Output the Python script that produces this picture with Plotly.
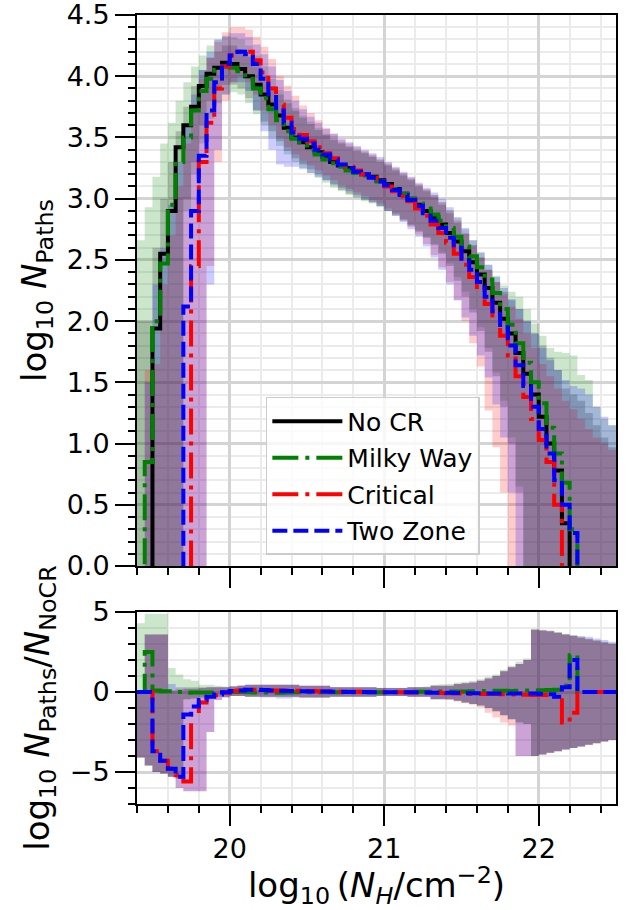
import numpy as np
import plotly.graph_objects as go

# ---------------- data ----------------
# bin edges of log10(N_H / cm^-2): 62 bins of 0.05 dex from 19.4 to 22.5
nh_edges = np.round(19.4 + 0.05 * np.arange(63), 3)

# log10 N_Paths per bin (-1 marks empty bins, below the visible range)
no_cr = [
    -1, -1, 1.94, 2.55, 2.90, 3.42, 3.60, 3.75, 3.92, 4.02,
    4.07, 4.11, 4.10, 4.06, 4.00, 3.93, 3.85, 3.77, 3.68, 3.58,
    3.50, 3.46, 3.42, 3.38, 3.34, 3.30, 3.27, 3.25, 3.22, 3.20,
    3.18, 3.15, 3.12, 3.08, 3.04, 3.00, 2.95, 2.90, 2.85, 2.79,
    2.72, 2.65, 2.57, 2.48, 2.38, 2.27, 2.15, 2.02, 1.90, 1.74,
    1.57, 1.40, 1.22, 1.00, 0.78, 0.35, -1, -1, -1, -1,
    -1, -1]
milky_way = [
    -1, 0.85, 2.00, 2.47, 2.95, 3.30, 3.50, 3.72, 3.88, 3.98,
    4.05, 4.08, 4.07, 4.04, 3.98, 3.90, 3.82, 3.73, 3.64, 3.55,
    3.49, 3.44, 3.40, 3.36, 3.32, 3.29, 3.26, 3.23, 3.21, 3.19,
    3.17, 3.14, 3.11, 3.08, 3.04, 3.00, 2.96, 2.92, 2.87, 2.82,
    2.76, 2.69, 2.61, 2.53, 2.44, 2.34, 2.23, 2.10, 1.97, 1.82,
    1.66, 1.50, 1.33, 1.13, 0.92, 0.68, 0.30, -1, -1, -1,
    -1, -1]
critical = [
    -1, -1, -1, -1, -1, -1, -1, 2.45, 3.30, 3.62,
    3.90, 4.08, 4.17, 4.20, 4.20, 4.13, 4.03, 3.90, 3.77, 3.66,
    3.57, 3.52, 3.47, 3.42, 3.37, 3.33, 3.29, 3.26, 3.23, 3.20,
    3.17, 3.14, 3.10, 3.06, 3.02, 2.98, 2.92, 2.86, 2.79, 2.72,
    2.64, 2.55, 2.46, 2.36, 2.26, 2.14, 2.02, 1.88, 1.72, 1.55,
    1.38, 1.20, 1.03, 0.85, 0.50, -1, -1, -1, -1, -1,
    -1, -1]
two_zone = [
    -1, -1, -1, -1, -1, -1, 2.12, 2.90, 3.35, 3.72,
    3.95, 4.10, 4.17, 4.20, 4.18, 4.10, 3.98, 3.85, 3.72, 3.62,
    3.54, 3.49, 3.45, 3.40, 3.36, 3.32, 3.28, 3.25, 3.22, 3.20,
    3.17, 3.14, 3.11, 3.07, 3.03, 2.99, 2.94, 2.88, 2.82, 2.76,
    2.68, 2.60, 2.51, 2.42, 2.32, 2.20, 2.08, 1.95, 1.80, 1.64,
    1.47, 1.30, 1.12, 0.92, 0.70, 0.50, 0.27, -1, -1, -1,
    -1, -1]

# spread bands (lower / upper) of log10 N_Paths
no_cr_lo = [
    -1, -1, -1, -1, -1, -1, 3.00, 3.30, 3.60, 3.80,
    3.88, 3.93, 3.93, 3.90, 3.82, 3.72, 3.63, 3.55, 3.47, 3.39,
    3.33, 3.28, 3.24, 3.20, 3.15, 3.11, 3.07, 3.04, 3.01, 2.99,
    2.97, 2.94, 2.90, 2.86, 2.82, 2.78, 2.73, 2.68, 2.62, 2.55,
    2.45, 2.33, 2.20, 2.07, 1.92, 1.75, 1.55, 1.30, 1.00, 0.60,
    -1, -1, -1, -1, -1, -1, -1, -1, -1, -1,
    -1, -1]
no_cr_hi = [
    2.00, 2.00, 2.60, 3.00, 3.30, 3.55, 3.75, 3.92, 4.05, 4.15,
    4.20, 4.25, 4.25, 4.22, 4.16, 4.08, 4.00, 3.92, 3.85, 3.78,
    3.72, 3.66, 3.61, 3.56, 3.52, 3.48, 3.45, 3.42, 3.39, 3.37,
    3.34, 3.30, 3.27, 3.23, 3.19, 3.15, 3.10, 3.06, 3.01, 2.95,
    2.88, 2.80, 2.71, 2.62, 2.52, 2.42, 2.32, 2.24, 2.17, 2.10,
    2.00, 1.90, 1.80, 1.70, 1.60, 1.45, 1.40, 1.35, 1.25, 1.15,
    1.05, 0.97]
milky_way_lo = [
    -1, -1, -1, -1, -1, -1, 2.90, 3.20, 3.45, 3.65,
    3.78, 3.85, 3.87, 3.85, 3.78, 3.69, 3.60, 3.51, 3.43, 3.36,
    3.30, 3.25, 3.21, 3.17, 3.13, 3.09, 3.06, 3.03, 3.01, 2.98,
    2.96, 2.93, 2.90, 2.87, 2.83, 2.79, 2.74, 2.69, 2.63, 2.56,
    2.47, 2.36, 2.24, 2.10, 1.95, 1.78, 1.58, 1.35, 1.05, 0.65,
    -1, -1, -1, -1, -1, -1, -1, -1, -1, -1,
    -1, -1]
milky_way_hi = [
    2.66, 2.93, 3.18, 3.45, 3.62, 3.80, 3.95, 4.08, 4.17, 4.25,
    4.30, 4.32, 4.32, 4.30, 4.25, 4.17, 4.08, 3.98, 3.89, 3.81,
    3.74, 3.68, 3.63, 3.58, 3.53, 3.49, 3.46, 3.43, 3.40, 3.38,
    3.35, 3.32, 3.28, 3.24, 3.20, 3.16, 3.11, 3.07, 3.03, 2.97,
    2.91, 2.84, 2.75, 2.66, 2.56, 2.46, 2.37, 2.29, 2.24, 2.20,
    2.10, 1.98, 1.88, 1.78, 1.75, 1.74, 1.72, 1.56, 1.52, 1.30,
    1.20, 1.15]
critical_lo = [
    -1, -1, -1, -1, -1, -1, -1, -1, -1, 2.45,
    3.30, 3.80, 3.95, 4.00, 3.95, 3.85, 3.72, 3.60, 3.50, 3.42,
    3.36, 3.31, 3.27, 3.23, 3.19, 3.15, 3.11, 3.08, 3.05, 3.02,
    2.99, 2.96, 2.92, 2.88, 2.83, 2.77, 2.71, 2.63, 2.54, 2.44,
    2.32, 2.17, 2.00, 1.82, 1.63, 1.27, 0.97, 0.60, -1, -1,
    -1, -1, -1, -1, -1, -1, -1, -1, -1, -1,
    -1, -1]
critical_hi = [
    -1, 1.60, 1.65, 2.30, 2.70, 3.10, 3.45, 3.75, 3.98, 4.15,
    4.28, 4.36, 4.40, 4.40, 4.38, 4.32, 4.24, 4.14, 4.00, 3.92,
    3.84, 3.76, 3.70, 3.64, 3.58, 3.53, 3.48, 3.45, 3.42, 3.39,
    3.36, 3.32, 3.29, 3.25, 3.21, 3.17, 3.12, 3.08, 3.03, 2.97,
    2.90, 2.82, 2.72, 2.62, 2.52, 2.42, 2.32, 2.22, 2.12, 2.02,
    1.90, 1.78, 1.65, 1.55, 1.45, 1.35, 1.28, 1.20, 1.12, 1.05,
    1.00, 0.95]
two_zone_lo = [
    -1, -1, -1, -1, -1, -1, -1, -1, -1, 2.30,
    3.40, 3.85, 3.95, 3.95, 3.88, 3.72, 3.55, 3.40, 3.28, 3.26,
    3.26, 3.24, 3.21, 3.18, 3.15, 3.12, 3.09, 3.06, 3.03, 3.00,
    2.97, 2.94, 2.90, 2.86, 2.81, 2.75, 2.69, 2.61, 2.52, 2.42,
    2.30, 2.17, 2.03, 1.88, 1.72, 1.54, 1.32, 1.05, 0.60, -1,
    -1, -1, -1, -1, -1, -1, -1, -1, -1, -1,
    -1, -1]
two_zone_hi = [
    -1, 1.50, 2.30, 2.60, 2.95, 3.30, 3.60, 3.85, 4.05, 4.20,
    4.30, 4.33, 4.35, 4.35, 4.32, 4.26, 4.18, 4.08, 3.97, 3.88,
    3.80, 3.73, 3.67, 3.62, 3.57, 3.53, 3.49, 3.46, 3.43, 3.40,
    3.37, 3.34, 3.30, 3.26, 3.22, 3.18, 3.13, 3.09, 3.05, 3.00,
    2.93, 2.85, 2.76, 2.66, 2.56, 2.46, 2.36, 2.27, 2.18, 2.10,
    2.00, 1.90, 1.78, 1.68, 1.60, 1.52, 1.47, 1.45, 1.40, 1.30,
    1.22, 1.15]

# log10 (N_Paths / N_NoCR) per bin
milky_way_ratio = [
    0.00, 2.50, 0.10, 0.05, 0.05, 0.00, -0.05, -0.03, -0.03, -0.03,
    -0.02, -0.02, 0.00, 0.00, -0.02, -0.03, -0.03, -0.04, -0.04, -0.03,
    -0.02, -0.02, -0.02, -0.02, -0.02, -0.01, -0.01, -0.02, -0.01, -0.01,
    -0.01, -0.01, -0.01, 0.00, 0.00, 0.00, 0.01, 0.02, 0.02, 0.03,
    0.04, 0.04, 0.04, 0.05, 0.06, 0.07, 0.08, 0.08, 0.07, 0.08,
    0.09, 0.10, 0.11, 0.12, 0.14, 0.40, 2.30, 0.00, 0.00, 0.00,
    0.00, 0.00]
critical_ratio = [
    0.00, 0.00, -3.70, -4.30, -4.80, -5.20, -5.60, -1.40, -0.65, -0.35,
    -0.20, -0.05, 0.07, 0.10, 0.15, 0.15, 0.12, 0.10, 0.10, 0.10,
    0.08, 0.07, 0.06, 0.05, 0.04, 0.03, 0.02, 0.01, 0.01, 0.00,
    0.00, -0.01, -0.02, -0.02, -0.02, -0.03, -0.03, -0.04, -0.05, -0.06,
    -0.07, -0.09, -0.10, -0.12, -0.12, -0.13, -0.13, -0.14, -0.15, -0.15,
    -0.17, -0.18, -0.18, -0.15, -0.28, -1.90, -1.30, 0.00, 0.00, 0.00,
    0.00, 0.00]
two_zone_ratio = [
    0.00, 0.00, -3.70, -4.30, -4.80, -5.30, -1.40, -0.90, -0.50, -0.30,
    -0.15, -0.02, 0.07, 0.10, 0.14, 0.14, 0.12, 0.10, 0.08, 0.07,
    0.06, 0.05, 0.04, 0.03, 0.03, 0.02, 0.01, 0.00, 0.00, 0.00,
    -0.01, -0.01, -0.01, -0.02, -0.02, -0.02, -0.02, -0.03, -0.04, -0.04,
    -0.05, -0.06, -0.07, -0.08, -0.08, -0.09, -0.09, -0.09, -0.10, -0.10,
    -0.10, -0.10, -0.12, -0.14, -0.30, 0.30, 2.00, 0.00, 0.00, 0.00,
    0.00, 0.00]

# spread bands of the ratio
no_cr_ratio_lo = [
    -4.1, -4.6, -5.0, -5.1, -5.3, -5.4, -0.45, -0.40, -0.35, -0.30,
    -0.30, -0.30, -0.25, -0.25, -0.30, -0.30, -0.30, -0.30, -0.30, -0.30,
    -0.30, -0.35, -0.35, -0.35, -0.35, -0.30, -0.30, -0.30, -0.30, -0.30,
    -0.30, -0.25, -0.25, -0.25, -0.25, -0.30, -0.30, -0.30, -0.45, -0.45,
    -0.45, -0.55, -0.65, -0.75, -0.85, -1.00, -1.20, -1.45, -1.70, -1.90,
    -2.00, -4.00, -3.90, -3.80, -3.70, -3.60, -3.50, -3.40, -3.30, -3.20,
    -3.10, -3.00]
no_cr_ratio_hi = [
    0.00, 3.60, 3.60, 3.60, 0.10, 0.10, 0.30, 0.30, 0.30, 0.30,
    0.30, 0.30, 0.35, 0.40, 0.45, 0.45, 0.45, 0.45, 0.45, 0.45,
    0.45, 0.40, 0.40, 0.40, 0.40, 0.30, 0.30, 0.30, 0.30, 0.30,
    0.30, 0.25, 0.25, 0.25, 0.25, 0.30, 0.30, 0.30, 0.40, 0.40,
    0.40, 0.50, 0.55, 0.60, 0.70, 0.85, 1.00, 1.30, 1.55, 1.75,
    2.00, 3.90, 3.85, 3.80, 3.70, 3.60, 3.50, 3.40, 3.30, 3.20,
    3.10, 3.00]
milky_way_ratio_lo = [
    -4.1, -4.6, -5.0, -5.1, -5.3, -5.4, -0.45, -0.40, -0.35, -0.30,
    -0.30, -0.30, -0.25, -0.25, -0.30, -0.30, -0.30, -0.30, -0.30, -0.30,
    -0.30, -0.35, -0.35, -0.35, -0.35, -0.30, -0.30, -0.30, -0.30, -0.30,
    -0.30, -0.25, -0.25, -0.25, -0.25, -0.30, -0.30, -0.30, -0.45, -0.45,
    -0.45, -0.55, -0.65, -0.75, -0.85, -1.00, -1.20, -1.45, -1.70, -1.90,
    -2.00, -4.00, -3.90, -3.80, -3.70, -3.60, -3.50, -3.40, -3.30, -3.20,
    -3.10, -3.00]
milky_way_ratio_hi = [
    4.30, 4.90, 4.90, 4.90, 1.50, 1.10, 0.80, 0.70, 0.45, 0.45,
    0.40, 0.35, 0.38, 0.42, 0.45, 0.45, 0.45, 0.45, 0.45, 0.45,
    0.45, 0.40, 0.40, 0.40, 0.40, 0.32, 0.30, 0.30, 0.30, 0.30,
    0.30, 0.27, 0.27, 0.27, 0.27, 0.30, 0.32, 0.35, 0.45, 0.48,
    0.50, 0.60, 0.65, 0.70, 0.80, 0.95, 1.10, 1.40, 1.65, 1.90,
    2.10, 3.95, 3.90, 3.85, 3.75, 3.65, 3.55, 3.45, 3.35, 3.25,
    3.15, 3.05]
critical_ratio_lo = [
    -4.1, -4.6, -5.0, -5.1, -5.3, -6.0, -6.2, -6.2, -6.2, -2.5,
    -0.50, -0.35, -0.25, -0.25, -0.30, -0.30, -0.30, -0.30, -0.30, -0.30,
    -0.30, -0.35, -0.35, -0.35, -0.35, -0.30, -0.30, -0.30, -0.30, -0.30,
    -0.30, -0.25, -0.25, -0.25, -0.25, -0.30, -0.30, -0.30, -0.45, -0.45,
    -0.50, -0.60, -0.70, -0.80, -0.95, -1.30, -1.60, -1.90, -2.10, -4.00,
    -4.00, -4.00, -3.90, -3.80, -3.70, -3.60, -3.50, -3.40, -3.30, -3.20,
    -3.10, -3.00]
critical_ratio_hi = [
    0.00, 3.60, 3.60, 3.60, 0.10, 0.20, 0.20, 0.20, 0.25, 0.30,
    0.30, 0.30, 0.35, 0.40, 0.45, 0.45, 0.45, 0.45, 0.45, 0.45,
    0.45, 0.40, 0.40, 0.40, 0.40, 0.30, 0.30, 0.30, 0.30, 0.30,
    0.30, 0.25, 0.25, 0.25, 0.25, 0.30, 0.30, 0.30, 0.40, 0.40,
    0.40, 0.50, 0.55, 0.60, 0.70, 0.85, 1.00, 1.30, 1.55, 1.75,
    2.00, 3.90, 3.85, 3.80, 3.70, 3.60, 3.50, 3.40, 3.30, 3.20,
    3.10, 3.00]
two_zone_ratio_lo = [
    -4.1, -4.6, -5.0, -5.1, -5.3, -6.0, -6.2, -6.2, -6.2, -2.5,
    -0.50, -0.35, -0.25, -0.25, -0.30, -0.30, -0.35, -0.35, -0.40, -0.40,
    -0.35, -0.35, -0.35, -0.35, -0.35, -0.30, -0.30, -0.30, -0.30, -0.30,
    -0.30, -0.25, -0.25, -0.25, -0.25, -0.30, -0.30, -0.30, -0.45, -0.45,
    -0.45, -0.55, -0.65, -0.75, -0.85, -1.00, -1.20, -1.45, -1.70, -4.00,
    -4.00, -4.00, -3.90, -3.80, -3.70, -3.60, -3.50, -3.40, -3.30, -3.20,
    -3.10, -3.00]
two_zone_ratio_hi = [
    0.00, 3.60, 3.60, 3.60, 0.50, 0.30, 0.20, 0.20, 0.25, 0.30,
    0.30, 0.30, 0.35, 0.40, 0.45, 0.45, 0.45, 0.45, 0.45, 0.45,
    0.45, 0.40, 0.40, 0.40, 0.40, 0.30, 0.30, 0.30, 0.30, 0.30,
    0.30, 0.25, 0.25, 0.25, 0.25, 0.30, 0.30, 0.30, 0.40, 0.40,
    0.40, 0.50, 0.55, 0.60, 0.70, 0.85, 1.00, 1.30, 1.55, 1.75,
    2.00, 3.90, 3.85, 3.80, 3.70, 3.60, 3.55, 3.50, 3.45, 3.35,
    3.25, 3.15]

series_names = ["No CR", "Milky Way", "Critical", "Two Zone"]

# ---------------- styling ----------------
colors = {"No CR": (0, 0, 0), "Milky Way": (0, 128, 0),
          "Critical": (255, 0, 0), "Two Zone": (0, 0, 255)}
dashes = {"No CR": "solid", "Milky Way": "26px,7px,4px,7px",
          "Critical": "26px,7px,4px,7px", "Two Zone": "15px,6px"}
FONT = "DejaVu Sans"


def steps(vals):
    return list(nh_edges), list(vals) + [vals[-1]]


def rgba(name, a):
    r, g, b = colors[name]
    return f"rgba({r},{g},{b},{a})"


fig = go.Figure()

top = {
    "No CR": (no_cr, no_cr_lo, no_cr_hi),
    "Milky Way": (milky_way, milky_way_lo, milky_way_hi),
    "Critical": (critical, critical_lo, critical_hi),
    "Two Zone": (two_zone, two_zone_lo, two_zone_hi),
}
bottom = {
    "No CR": (None, no_cr_ratio_lo, no_cr_ratio_hi),
    "Milky Way": (milky_way_ratio, milky_way_ratio_lo, milky_way_ratio_hi),
    "Critical": (critical_ratio, critical_ratio_lo, critical_ratio_hi),
    "Two Zone": (two_zone_ratio, two_zone_ratio_lo, two_zone_ratio_hi),
}

for panel, xa, ya in ((top, "x2", "y2"), (bottom, "x", "y")):
    # bands
    for name in series_names:
        _, lo, hi = panel[name]
        xs, ylo = steps(lo)
        _, yhi = steps(hi)
        fig.add_trace(go.Scatter(x=xs, y=ylo, mode="lines", xaxis=xa, yaxis=ya,
                                 line=dict(width=0, shape="hv"), showlegend=False,
                                 hoverinfo="skip"))
        fig.add_trace(go.Scatter(x=xs, y=yhi, mode="lines", xaxis=xa, yaxis=ya,
                                 line=dict(width=0, shape="hv"), fill="tonexty",
                                 fillcolor=rgba(name, 0.2), showlegend=False,
                                 hoverinfo="skip"))
    # lines
    for name in series_names:
        vals = panel[name][0]
        if vals is None:
            continue
        xs, ys = steps(vals)
        fig.add_trace(go.Scatter(x=xs, y=ys, mode="lines", xaxis=xa, yaxis=ya,
                                 name=name, legendgroup=name,
                                 showlegend=(ya == "y2"),
                                 line=dict(color=rgba(name, 1), width=4,
                                           shape="hv", dash=dashes[name])))

axis_common = dict(
    ticks="outside", ticklen=20, tickwidth=2, tickcolor="black",
    showline=True, linewidth=2, linecolor="black", mirror=True,
    showgrid=True, gridcolor="#d4d4d4", gridwidth=3, zeroline=False,
    automargin=False, ticklabeloverflow="allow",
    tickfont=dict(family=FONT, size=27, color="black"),
)
minor_common = dict(ticks="outside", ticklen=7, tickwidth=1.5, tickcolor="black",
                    showgrid=True, gridcolor="#ebebeb", gridwidth=1.5)

fig.update_layout(
    width=628, height=910,
    margin=dict(l=137, r=12, t=15, b=106),
    paper_bgcolor="white", plot_bgcolor="white",
    font=dict(family=FONT, color="black"),
    xaxis=dict(axis_common, anchor="y", range=[19.4, 22.5], dtick=1, tick0=0,
               minor=dict(minor_common, dtick=0.2),
               title=dict(text="log<sub>10</sub>\u2009(<i>N<sub>H</sub></i>/cm<sup>−2</sup>)",
                          font=dict(family=FONT, size=34), standoff=8)),
    xaxis2=dict(axis_common, anchor="y2", matches="x", range=[19.4, 22.5], dtick=1,
                tick0=0, showticklabels=False,
                minor=dict(minor_common, dtick=0.2)),
    yaxis=dict(axis_common, anchor="x", domain=[0, 0.2433], range=[-7, 5],
               dtick=5, tick0=0, minor=dict(minor_common, dtick=1),
               title=dict(text="log<sub>10</sub> <i>N</i><sub>Paths</sub>/<i>N</i><sub>NoCR</sub>",
                          font=dict(family=FONT, size=34), standoff=10)),
    yaxis2=dict(axis_common, anchor="x2", domain=[0.3016, 1], range=[0, 4.5],
                dtick=0.5, tick0=0, tickformat=".1f",
                minor=dict(minor_common, dtick=0.1),
                title=dict(text="log<sub>10</sub> <i>N</i><sub>Paths</sub>",
                           font=dict(family=FONT, size=34), standoff=10)),
    legend=dict(x=0.269, y=0.516, xanchor="left", yanchor="top",
                bgcolor="rgba(255,255,255,0.8)", bordercolor="#cccccc",
                borderwidth=1.5, font=dict(family=FONT, size=25, color="black"),
                traceorder="grouped", tracegroupgap=1, itemwidth=70),
)

fig.write_html("out.html")
